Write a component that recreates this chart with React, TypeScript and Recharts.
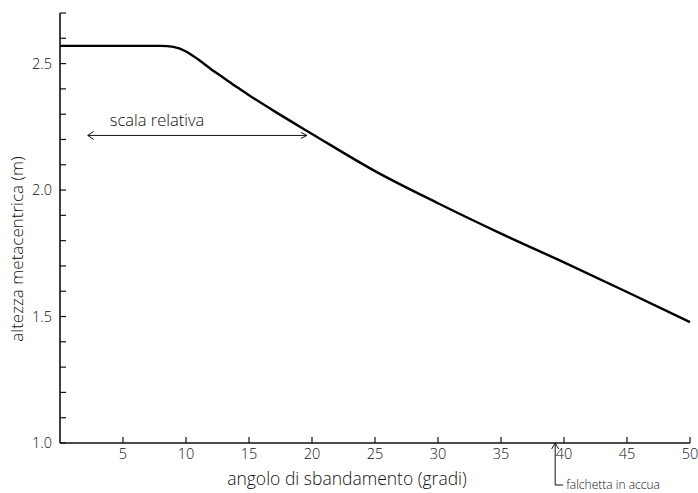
import { Label, Line, LineChart, ReferenceLine, XAxis, YAxis } from "recharts";

const FONT = "'Open Sans', 'Liberation Sans', sans-serif";
const INK = "#111";

// angolo di sbandamento (gradi)
const angles = [0, 5, 8, 9, 10, 11, 12, 13, 14, 15, 17, 20, 25, 30, 35, 40, 45, 50];
// altezza metacentrica (m)
const gm = [2.57, 2.57, 2.57, 2.566, 2.548, 2.515, 2.478, 2.443, 2.408, 2.375, 2.312, 2.222, 2.075, 1.948, 1.828, 1.714, 1.597, 1.478];

const xTicks = [0, 5, 10, 15, 20, 25, 30, 35, 40, 45, 50];
const yTicks = [1.0, 1.1, 1.2, 1.3, 1.4, 1.5, 1.6, 1.7, 1.8, 1.9, 2.0, 2.1, 2.2, 2.3, 2.4, 2.5, 2.6, 2.7];
const yLabelled = ["1.0", "1.5", "2.0", "2.5"];

const data = angles.map((a, i) => ({ angle: a, gm: gm[i] }));

function XTick({ x, y, payload }: any) {
  const v = payload.value;
  if (v === 0) return <g />;
  return (
    <g>
      <line x1={x} x2={x} y1={y - 6} y2={y - 12} stroke={INK} strokeWidth={1.2} />
      <text x={x} y={y} dy="0.71em" textAnchor="middle" fontFamily={FONT} fontWeight={300} fontSize={14.5} fill={INK}>
        {v}
      </text>
    </g>
  );
}

function YTick({ x, y, payload }: any) {
  const s = Number(payload.value).toFixed(1);
  return (
    <g>
      <line x1={x + 8} x2={x + 14} y1={y} y2={y} stroke={INK} strokeWidth={1.2} />
      {yLabelled.includes(s) && (
        <text x={x} y={y} dy="0.35em" textAnchor="end" fontFamily={FONT} fontWeight={300} fontSize={14.5} fill={INK}>
          {s}
        </text>
      )}
    </g>
  );
}

function ScalaArrow({ x1, x2, y1 }: any) {
  return (
    <g stroke={INK} strokeWidth={1} fill="none">
      <line x1={x1} x2={x2} y1={y1} y2={y1} />
      <polyline points={`${x1 + 6},${y1 - 4} ${x1},${y1} ${x1 + 6},${y1 + 4}`} />
      <polyline points={`${x2 - 6},${y1 - 3} ${x2},${y1} ${x2 - 6},${y1 + 3}`} />
      <text x={x1 + 22} y={y1 - 9} fontFamily={FONT} fontWeight={300} fontSize={16.5} fill={INK} stroke="none">
        scala relativa
      </text>
    </g>
  );
}

function FalchettaArrow({ x1, y2 }: any) {
  const bottom = y2 + 42;
  return (
    <g stroke={INK} strokeWidth={1} fill="none">
      <line x1={x1} x2={x1} y1={y2} y2={bottom} />
      <polyline points={`${x1 - 3.5},${y2 + 6} ${x1},${y2} ${x1 + 3.5},${y2 + 6}`} />
      <line x1={x1} x2={x1 + 8} y1={bottom} y2={bottom} />
      <text x={x1 + 11} y={bottom} dy="0.3em" fontFamily={FONT} fontWeight={300} fontSize={12} fill={INK} stroke="none">
        falchetta in accua
      </text>
    </g>
  );
}

export default function App() {
  return (
    <div style={{ position: "absolute", left: 0, top: 0, width: 698, height: 493, background: "#fff" }}>
      <LineChart width={698} height={493} data={data} margin={{ top: 13, right: 8, left: 0, bottom: 20 }}>
        <XAxis
          dataKey="angle"
          type="number"
          domain={[0, 50]}
          ticks={xTicks}
          tickSize={0}
          tickMargin={6}
          tick={<XTick />}
          tickLine={false}
          axisLine={{ stroke: INK, strokeWidth: 1.6 }}
          height={30}
        >
          <Label
            content={({ viewBox }: any) => (
              <text
                x={viewBox.x + viewBox.width / 2 - 28}
                y={485}
                textAnchor="middle"
                fontFamily={FONT}
                fontWeight={300}
                fontSize={17.5}
                fill={INK}
              >
                angolo di sbandamento (gradi)
              </text>
            )}
          />
        </XAxis>
        <YAxis
          type="number"
          domain={[1.0, 2.7]}
          ticks={yTicks}
          width={60}
          tickSize={0}
          tickMargin={8}
          tick={<YTick />}
          tickLine={false}
          axisLine={{ stroke: INK, strokeWidth: 1.6 }}
          interval={0}
        >
          <Label
            content={() => {
              const cx = 16;
              const cy = 249;
              return (
                <text
                  x={cx}
                  y={cy}
                  transform={`rotate(-90 ${cx} ${cy})`}
                  textAnchor="middle"
                  dominantBaseline="central"
                  fontFamily={FONT}
                  fontWeight={300}
                  fontSize={17}
                  fill={INK}
                >
                  altezza metacentrica (m)
                </text>
              );
            }}
          />
        </YAxis>
        <ReferenceLine
          segment={[{ x: 2.2, y: 2.216 }, { x: 19.6, y: 2.216 }]}
          shape={(p: any) => <ScalaArrow x1={p.x1} x2={p.x2} y1={p.y1} />}
          ifOverflow="visible"
        />
        <ReferenceLine x={39.3} shape={(p: any) => <FalchettaArrow x1={p.x1} y2={Math.max(p.y1, p.y2)} />} ifOverflow="visible" />
        <Line
          type="monotone"
          dataKey="gm"
          stroke="#000"
          strokeWidth={2.4}
          dot={false}
          isAnimationActive={false}
        />
      </LineChart>
    </div>
  );
}
